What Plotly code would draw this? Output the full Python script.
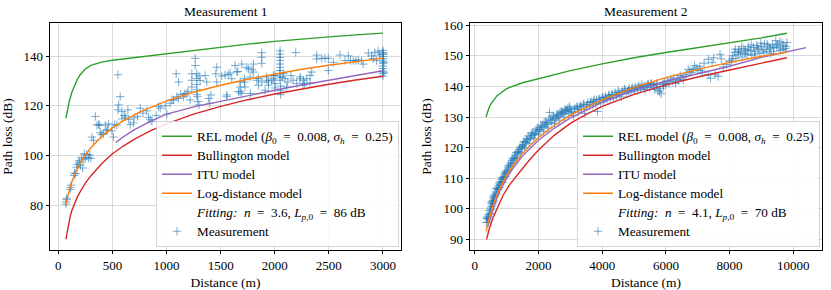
import plotly.graph_objects as go

# ---------------- Measurement 1 data ----------------
m1_rel_d = [70, 85, 100, 125, 150, 175, 200, 250, 300, 350, 400, 500, 750, 1000, 1250, 1500, 1750, 2000, 2250, 2500, 2750, 3000]
m1_rel_L = [115.0, 118.5, 121.5, 125.5, 128.3, 130.6, 132.4, 134.8, 136.3, 137.1, 137.6, 138.3, 139.6, 140.8, 142.4, 143.6, 144.8, 145.9, 146.9, 147.7, 148.5, 149.2]

m1_bul_d = [70, 80, 90, 100, 110, 125, 150, 175, 200, 250, 300, 400, 500, 600, 700, 850, 1000, 1250, 1500, 1750, 2000, 2250, 2500, 2750, 3000]
m1_bul_L = [66.5, 69.3, 71.8, 74.2, 75.8, 78.0, 80.9, 83.4, 85.4, 89.0, 91.9, 96.8, 100.8, 103.9, 106.6, 110.0, 112.8, 116.7, 119.8, 122.5, 124.8, 126.9, 128.7, 130.4, 131.9]

m1_itu_d = [530, 600, 700, 850, 1000, 1250, 1500, 1750, 2000, 2250, 2500, 2750, 3000]
m1_itu_L = [105.3, 107.6, 110.4, 113.8, 116.7, 119.6, 121.8, 124.2, 126.3, 128.4, 130.4, 132.3, 134.1]

m1_log_d = [70, 80, 100, 125, 150, 200, 250, 300, 400, 500, 600, 750, 1000, 1250, 1500, 1750, 2000, 2250, 2500, 2750, 3000]
m1_log_L = [80.4, 82.5, 86.0, 89.5, 92.3, 96.8, 100.3, 103.2, 107.7, 111.2, 114.0, 117.5, 122.0, 125.5, 128.3, 130.7, 132.8, 134.7, 136.3, 137.8, 139.2]

m1_meas_d = [70, 72, 75, 78, 110, 112, 118, 145, 150, 160, 170, 175, 190, 195, 205, 215, 225, 235, 240, 250, 262, 280, 290, 300,
             310, 325, 342, 357, 372, 382, 388, 400, 418, 434, 443, 455, 465, 495, 510, 520,
             541, 551, 557, 572, 551, 588, 609, 643, 665, 695, 588, 620, 650, 700, 732, 757, 782, 818, 834, 850, 865, 905, 926, 942, 988,
             1003, 1034, 1050, 1065, 1089, 1095, 1111, 1111, 1132, 1157, 1170, 1188, 1200, 1218, 1234, 1234, 1234, 1265, 1265,
             1280, 1280, 1280, 1280, 1280, 1285, 1290, 1300, 1300, 1310, 1357, 1372, 1390, 1400, 1410, 1455, 1465, 1465, 1511, 1540,
             1557, 1557, 1570, 1588, 1603, 1634, 1650, 1658, 1665, 1680, 1680, 1680, 1695, 1695, 1720, 1720, 1725, 1742, 1757, 1772,
             1775, 1790, 1803, 1803, 1834, 1849, 1850, 1880, 1880, 1880, 1880, 1911, 1926, 1926, 1942, 1942, 1972, 1988, 1988, 2003,
             2003, 2003, 2049, 2049, 2049, 2049, 2049, 2049, 2049, 2049, 2049, 2049, 2055, 2055, 2055, 2070, 2080, 2095, 2110, 2120,
             2150, 2170, 2194, 2203, 2235, 2234, 2260, 2265, 2275, 2295, 2326, 2326, 2342, 2388, 2388, 2435, 2465, 2495, 2495, 2542,
             2603, 2650, 2680, 2700, 2726, 2750, 2772, 2803, 2818, 2865, 2895, 2910, 2925, 2940, 2955, 2970,
             3000, 3000, 3000, 3000, 3000, 3000, 3000, 3000, 3000, 3000, 3000, 3000, 3005, 3010, 3010]
m1_meas_L = [80.6, 81.5, 82.4, 83.0, 86.5, 87.3, 88.2, 92.1, 93.0, 92.8, 95.4, 96.5, 98.0, 97.2, 96.2, 99.2, 95.1, 98.6, 100.8, 99.2, 100.5, 99.1, 100.3, 99.0,
             107.5, 106.2, 115.8, 112.3, 112.6, 112.3, 109.3, 108.5, 108.8, 112.3, 110.0, 110.5, 112.8, 110.0, 107.5, 112.5,
             112.3, 132.5, 120.4, 123.7, 118.4, 117.8, 116.2, 118.4, 112.5, 113.2, 114.8, 115.5, 114.6, 115.2, 115.8, 119.1, 117.1, 118.0, 115.4, 114.5, 113.8, 116.2, 119.7, 119.1, 120.1,
             116.7, 121.1, 122.4, 122.4, 132.9, 123.7, 129.6, 123.0, 124.6, 123.7, 124.9, 125.0, 125.7, 122.4, 132.9, 130.3, 127.6, 139.1, 136.2,
             132.9, 131.0, 128.6, 126.5, 124.5, 123.7, 121.7, 120.4, 132.0, 130.2, 132.2, 129.6, 123.0, 121.0, 124.4, 132.9, 129.6, 135.5, 132.0, 132.4,
             123.7, 124.4, 132.6, 133.2, 130.9, 136.2, 133.6, 133.8, 125.7, 129.6, 127.6, 125.7, 136.8, 125.0, 130.9, 129.6, 127.6, 135.5, 134.9, 131.6,
             125.0, 134.5, 136.8, 133.6, 130.3, 128.3, 131.0, 137.1, 141.4, 129.6, 139.5, 126.3, 131.6, 130.3, 129.6, 128.3, 130.3, 132.2, 130.9, 132.2,
             129.0, 127.2, 142.1, 140.8, 139.5, 138.2, 136.8, 135.5, 134.2, 132.9, 131.6, 130.3, 128.0, 126.3, 124.5, 131.6, 132.9, 130.9, 127.6, 129.6,
             132.2, 130.3, 141.4, 129.0, 131.6, 130.9, 128.3, 130.3, 129.0, 130.9, 132.2, 129.2, 133.6, 140.4, 138.8, 139.1, 139.1, 139.1, 134.2, 137.5,
             140.4, 138.2, 140.1, 138.2, 138.2, 138.2, 138.5, 138.2, 136.8, 141.2, 140.1, 139.0, 141.4, 138.2, 142.0, 140.4,
             142.3, 141.5, 140.6, 139.8, 138.9, 138.0, 137.1, 136.0, 135.0, 134.0, 133.0, 132.0, 141.0, 137.5, 133.5]

# ---------------- Measurement 2 data ----------------
m2_rel_d = [350, 400, 450, 500, 600, 700, 800, 1000, 1500, 2000, 3000, 4000, 5000, 6000, 7000, 8000, 9000, 9800]
m2_rel_L = [130.0, 131.8, 133.2, 134.2, 135.8, 137.0, 137.8, 139.3, 141.2, 142.6, 145.2, 147.4, 149.4, 151.1, 152.7, 154.1, 155.9, 157.4]

m2_bul_d = [367, 450, 577, 700, 892, 1100, 1416, 1700, 2000, 2500, 3000, 3500, 4000, 5000, 6000, 7000, 8000, 9000, 9800]
m2_bul_L = [90.0, 93.3, 97.2, 100.3, 104.5, 108.0, 112.3, 115.8, 119.2, 124.1, 127.9, 130.9, 133.5, 137.4, 140.5, 143.1, 145.4, 147.6, 149.4]

m2_itu_d = [400, 500, 600, 700, 800, 1000, 1200, 1500, 2000, 2500, 3000, 4000, 5000, 6000, 7000, 8000, 9000, 9800, 10400]
m2_itu_L = [93.9, 97.8, 101.0, 103.7, 106.1, 110.1, 113.3, 117.3, 122.4, 126.4, 129.7, 134.8, 138.8, 141.7, 144.2, 146.6, 149.5, 151.4, 152.7]

m2_log_d = [350, 400, 500, 600, 700, 800, 1000, 1200, 1500, 2000, 2500, 3000, 4000, 5000, 6000, 7000, 8000, 9000, 9800]
m2_log_L = [92.6, 94.7, 98.7, 101.9, 104.6, 107.0, 111.0, 114.2, 118.2, 123.3, 127.3, 130.6, 135.7, 139.7, 142.9, 145.6, 147.9, 149.9, 151.2]

m2_meas_d = [360, 380, 400, 420, 440, 460, 480, 500, 520, 540, 560, 580, 600, 630, 660, 690, 720, 750, 780, 810, 840, 870, 900, 930, 960,
             1000, 1040, 1080, 1120, 1160, 1200, 1240, 1280, 1320, 1360, 1400, 1440, 1480, 1520, 1560, 1600, 1650, 1700, 1750, 1800,
             1850, 1900, 1950, 2000, 2050, 2100, 2150, 2200, 2250, 2300, 2350, 2400, 2450, 2500, 2550, 2600, 2650, 2700, 2750, 2800,
             2850, 2900, 2950, 3000, 3050, 3100, 3150, 3200, 3250, 3300, 3350, 3400, 3450, 3500, 3550, 3600, 3650, 3700, 3750, 3800,
             3850, 3900, 3950, 4000, 4050, 4100, 4150, 4200, 4250, 4300, 4350, 4400, 4450, 4500, 4550, 4600, 4650, 4700, 4750, 4800,
             4850, 4900, 4950, 5000, 5050, 5100, 5150, 5200, 5250, 5300, 5350, 5400, 5450, 5500, 5550, 5600, 5650, 5700, 5750, 5800,
             5850, 5900, 5950, 6000, 6100, 6200, 6300, 6350, 6400, 6500, 6550, 6650, 6750, 6850, 6950, 7060, 7100, 7150, 7200, 7330,
             7330, 7400, 7450, 7500, 7550, 7640, 7700, 7740, 7800, 7900, 8000, 8050, 8100, 8150, 8200, 8260, 8300, 8350, 8400, 8450,
             8500, 8550, 8600, 8650, 8700, 8750, 8800, 8850, 8900, 8950, 9000, 9050, 9100, 9150, 9200, 9250, 9300, 9350, 9400, 9450,
             9500, 9550, 9600, 9650, 9700, 9750, 9800,
             370, 410, 430, 470, 490, 510, 530, 550, 570, 590, 610, 645, 675, 705, 735, 765, 795, 825, 855, 885, 915, 945, 980,
             1020, 1060, 1100, 1140, 1180, 1220, 1260, 1300, 1340, 1380, 1420, 1460, 1500, 1540, 1580, 1625, 1675, 1725, 1775, 1825,
             1875, 1925, 1975, 2025, 2075, 2125, 2175, 2225, 2275, 2325, 2375, 2425, 2475, 2525, 2575, 2625, 2675, 2725, 2775, 2825,
             2875, 2925, 2975, 3025, 3125, 3225, 3325, 3425, 3525, 3625, 3725, 3825, 3925, 4025, 4125, 4225, 4325, 4425, 4525, 4625,
             4725, 4825, 4925, 5025, 5125, 5225, 5325, 5425, 5525, 5625, 5725, 5825, 5925, 6050, 6150, 6250, 6450, 6600, 6700, 6800,
             6900, 7000, 8080, 8180, 8280, 8380, 8480, 8580, 8680, 8780, 8880, 8980, 9080, 9180, 9280, 9380, 9480, 9580, 9680, 9780]
m2_meas_L = [95.5, 96.8, 95.6, 98.0, 97.2, 99.4, 98.6, 100.6, 101.8, 100.9, 102.8, 103.5, 102.6, 104.8, 105.5, 104.9, 107.0, 107.6, 106.9, 108.9, 109.6, 108.6, 110.6, 111.4, 110.5,
             112.6, 113.6, 112.9, 115.0, 115.8, 115.0, 116.9, 117.6, 116.5, 118.7, 119.4, 118.2, 120.3, 121.0, 119.9, 121.6, 122.4, 121.4, 123.4, 124.0,
             122.9, 124.6, 125.4, 124.2, 125.9, 126.6, 125.3, 127.0, 127.6, 126.4, 131.5, 128.2, 129.0, 127.8, 129.6, 130.2, 129.0, 130.8, 131.4, 130.0,
             131.8, 132.3, 131.0, 132.6, 131.5, 130.4, 132.8, 133.4, 131.6, 133.6, 132.4, 134.2, 131.2, 133.4, 134.8, 133.6, 135.0, 134.0, 135.6, 134.4,
             131.8, 135.8, 134.8, 136.4, 135.4, 136.8, 135.8, 137.2, 136.0, 137.4, 136.4, 138.0, 137.0, 138.6, 137.4, 136.6, 138.4, 139.2, 137.8, 138.6,
             139.4, 138.2, 139.6, 138.8, 139.8, 138.6, 140.2, 139.2, 140.6, 139.6, 139.0, 140.2, 140.8, 139.6, 141.0, 140.2, 139.0, 140.6, 138.6, 138.2,
             137.6, 140.8, 141.4, 140.6, 141.0, 141.6, 141.0, 142.2, 142.0, 143.0, 142.2, 144.0, 145.0, 145.6, 146.0, 146.6, 145.2, 144.6, 147.6, 148.9,
             143.8, 142.7, 147.8, 149.4, 143.8, 143.3, 150.5, 149.0, 146.4, 147.2, 148.4, 148.0, 150.0, 151.2, 149.2, 150.5, 152.0, 151.0, 149.6, 152.4,
             151.6, 150.4, 153.0, 151.8, 150.2, 152.8, 151.4, 153.4, 152.2, 150.8, 153.0, 152.0, 154.0, 151.5, 153.2, 152.2, 150.8, 153.6, 152.8, 155.0,
             153.8, 152.6, 151.8, 154.2, 153.4, 152.4, 154.4,
             97.0, 97.4, 96.4, 98.2, 100.0, 99.6, 102.4, 101.6, 102.0, 104.2, 103.8, 104.2, 106.6, 106.4, 106.2, 108.4, 108.0, 108.6, 110.2, 109.8, 110.2, 112.0, 111.8,
             112.2, 114.2, 114.0, 114.6, 116.4, 116.2, 116.6, 118.4, 118.2, 118.6, 120.2, 119.8, 120.6, 122.0, 121.8, 122.8, 123.8, 122.9, 124.6, 125.0,
             124.2, 126.0, 126.4, 125.8, 127.4, 127.0, 128.2, 128.6, 127.8, 129.4, 129.0, 130.0, 130.4, 129.6, 131.0, 130.6, 131.6, 132.0, 131.2, 132.6,
             132.2, 133.0, 133.4, 131.8, 132.6, 133.2, 133.6, 134.2, 134.0, 134.8, 135.2, 135.6, 136.0, 136.4, 136.2, 137.0, 137.4, 137.2, 138.0, 138.2,
             138.8, 138.6, 139.2, 139.4, 139.8, 140.0, 140.2, 140.6, 140.8, 140.4, 141.0, 139.4, 140.0, 141.8, 142.4, 142.8, 143.6, 143.2, 145.6, 144.6,
             146.8, 145.4, 149.0, 152.2, 151.4, 153.0, 150.8, 152.0, 153.6, 150.6, 152.6, 154.2, 151.2, 153.8, 152.6, 151.4, 153.2, 154.6, 152.0, 153.0]

x_ticks_1 = [0, 500, 1000, 1500, 2000, 2500, 3000]
y_ticks_1 = [80, 100, 120, 140]
x_ticks_2 = [0, 2000, 4000, 6000, 8000, 10000]
y_ticks_2 = [90, 100, 110, 120, 130, 140, 150, 160]

titles = ["Measurement 1", "Measurement 2"]
NB = "\u00a0"
fit_labels = [f"<i>Fitting:</i>{NB} <i>n</i>{NB} ={NB} 3.6, <i>L</i><sub><i>p</i>,0</sub>{NB} ={NB} 86{NB}dB",
              f"<i>Fitting:</i>{NB} <i>n</i>{NB} ={NB} 4.1, <i>L</i><sub><i>p</i>,0</sub>{NB} ={NB} 70{NB}dB"]
rel_label = f"REL model (<i>β</i><sub>0</sub>{NB} ={NB} 0.008, <i>σ</i><sub><i>h</i></sub>{NB} ={NB} 0.25)"

GREEN, RED, PURPLE, ORANGE, BLUE = "#2ca02c", "#d62728", "#9467bd", "#ff7f0e", "#1f77b4"
FONT = "Liberation Serif"
W, H = 831, 290


def big(s):
    return f'<span style="font-size:13.2px">{s}</span>'


fig = go.Figure()

panels = [
    dict(xa="x", ya="y", leg="legend", meas=(m1_meas_d, m1_meas_L),
         rel=(m1_rel_d, m1_rel_L), bul=(m1_bul_d, m1_bul_L), itu=(m1_itu_d, m1_itu_L), log=(m1_log_d, m1_log_L), fit=fit_labels[0]),
    dict(xa="x2", ya="y2", leg="legend2", meas=(m2_meas_d, m2_meas_L),
         rel=(m2_rel_d, m2_rel_L), bul=(m2_bul_d, m2_bul_L), itu=(m2_itu_d, m2_itu_L), log=(m2_log_d, m2_log_L), fit=fit_labels[1]),
]

for p in panels:
    fig.add_trace(go.Scatter(x=p["meas"][0], y=p["meas"][1], mode="markers", name=big("Measurement"),
                             marker=dict(symbol="cross-thin", size=6, color="rgba(31,119,180,0.6)",
                                         line=dict(width=1.0, color="rgba(31,119,180,0.6)")),
                             xaxis=p["xa"], yaxis=p["ya"], legend=p["leg"], legendrank=6))
    for key, name, col, rank in [("rel", rel_label, GREEN, 1), ("bul", "Bullington model", RED, 2),
                                 ("itu", "ITU model", PURPLE, 3), ("log", "Log-distance model", ORANGE, 4)]:
        fig.add_trace(go.Scatter(x=p[key][0], y=p[key][1], mode="lines", name=big(name),
                                 line=dict(color=col, width=1.4),
                                 xaxis=p["xa"], yaxis=p["ya"], legend=p["leg"], legendrank=rank))
    fig.add_trace(go.Scatter(x=[None], y=[None], mode="lines", name=big(p["fit"]),
                             line=dict(color="rgba(0,0,0,0)", width=0),
                             xaxis=p["xa"], yaxis=p["ya"], legend=p["leg"], legendrank=5))

ydom = [(H - 249) / H, (H - 18.5) / H]
xdom1 = [50 / W, 401 / W]
xdom2 = [470 / W, 822 / W]

axis_common = dict(showline=True, linecolor="black", linewidth=1, mirror=True,
                   ticks="outside", ticklen=3.5, tickwidth=0.8, tickcolor="black",
                   showgrid=True, gridcolor="rgba(176,176,176,0.45)", gridwidth=0.8,
                   zeroline=False, tickfont=dict(family=FONT, size=13, color="black"))

leg_common = dict(xanchor="right", yanchor="bottom",
                  bgcolor="rgba(255,255,255,0.85)", bordercolor="rgba(204,204,204,0.8)", borderwidth=1,
                  font=dict(family=FONT, size=12, color="black"), itemwidth=30, tracegroupgap=0)

fig.update_layout(
    width=W, height=H, margin=dict(l=0, r=0, t=0, b=0),
    paper_bgcolor="white", plot_bgcolor="white",
    font=dict(family=FONT, size=13, color="black"),
    xaxis=dict(domain=xdom1, range=[-77, 3167], tickvals=x_ticks_1, ticktext=[str(v) for v in x_ticks_1], anchor="y",
               title=dict(text="Distance (m)", standoff=6, font=dict(family=FONT, size=13.5)), **axis_common),
    yaxis=dict(domain=ydom, range=[62.3, 153.2], tickvals=y_ticks_1, ticktext=[str(v) for v in y_ticks_1], anchor="x",
               title=dict(text="Path loss (dB)", standoff=8, font=dict(family=FONT, size=13.5)), **axis_common),
    xaxis2=dict(domain=xdom2, range=[-152, 10902], tickvals=x_ticks_2, ticktext=[str(v) for v in x_ticks_2], anchor="y2",
                title=dict(text="Distance (m)", standoff=6, font=dict(family=FONT, size=13.5)), **axis_common),
    yaxis2=dict(domain=ydom, range=[86.6, 160.7], tickvals=y_ticks_2, ticktext=[str(v) for v in y_ticks_2], anchor="x2",
                title=dict(text="Path loss (dB)", standoff=8, font=dict(family=FONT, size=13.5)), **axis_common),
    legend=dict(x=(401 - 2) / W, y=(H - 249 + 3) / H, **leg_common),
    legend2=dict(x=(822 - 2) / W, y=(H - 249 + 3) / H, **leg_common),
    showlegend=True,
)

for t, dom in zip(titles, [xdom1, xdom2]):
    fig.add_annotation(text=t, x=(dom[0] + dom[1]) / 2, y=(H - 7) / H, xref="paper", yref="paper",
                       xanchor="center", yanchor="middle", showarrow=False,
                       font=dict(family=FONT, size=13.5, color="black"))

post = ("document.body.style.margin='0px';document.body.style.padding='0px';"
        "var gd=document.getElementById('{plot_id}');gd.style.position='absolute';"
        "gd.style.left='0px';gd.style.top='0px';")

fig.write_html("out.html", post_script=post, config={"displayModeBar": False})
